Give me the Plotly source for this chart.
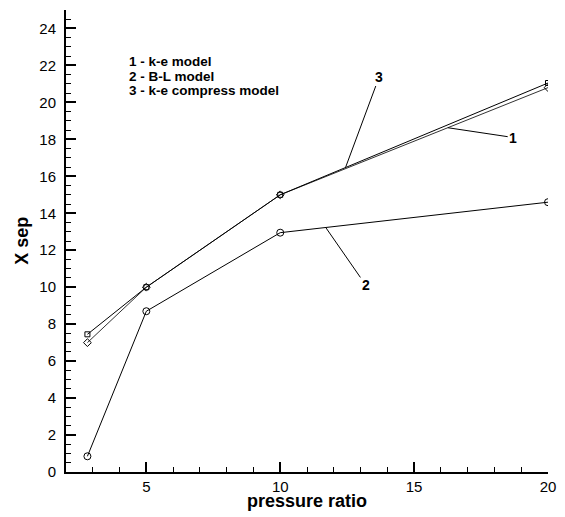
import plotly.graph_objects as go

# pressure ratio values
pressure_ratio = [2.8, 5, 10, 20]

# separation position for each model
x_sep_ke = [7.0, 10.0, 15.0, 20.8]
x_sep_bl = [0.85, 8.7, 12.95, 14.6]
x_sep_ke_compress = [7.45, 10.0, 15.0, 21.05]

legend_lines = ["1 - k-e model", "2 - B-L model", "3 - k-e compress model"]
legend_y = [22.2, 21.4, 20.65]

# curve labels: (text, label x, label y, point x, point y)
curve_labels = [
    ("1", 18.7, 18.1, 16.26, 18.63),
    ("2", 13.2, 10.1, 11.7, 13.23),
    ("3", 13.7, 21.4, 12.44, 16.48),
]

FONT = "Liberation Sans, Arial, sans-serif"

fig = go.Figure()

fig.add_trace(
    go.Scatter(
        x=pressure_ratio,
        y=x_sep_ke,
        mode="lines+markers",
        line=dict(color="#333333", width=1),
        marker=dict(symbol="diamond-open", size=6, color="#000000", line=dict(width=1)),
        showlegend=False,
    )
)
fig.add_trace(
    go.Scatter(
        x=pressure_ratio,
        y=x_sep_bl,
        mode="lines+markers",
        line=dict(color="#000000", width=1),
        marker=dict(symbol="circle-open", size=7, color="#000000", line=dict(width=1)),
        showlegend=False,
    )
)
fig.add_trace(
    go.Scatter(
        x=pressure_ratio,
        y=x_sep_ke_compress,
        mode="lines+markers",
        line=dict(color="#000000", width=1),
        marker=dict(symbol="square-open", size=5, color="#000000", line=dict(width=1)),
        showlegend=False,
    )
)

# legend text block, one line per annotation
for line, ly in zip(legend_lines, legend_y):
    fig.add_annotation(
        x=4.28,
        y=ly,
        xref="x",
        yref="y",
        text=line,
        showarrow=False,
        xanchor="left",
        yanchor="middle",
        font=dict(family=FONT, size=13.5, color="#000000", weight="bold"),
    )

# numbered leader labels
for text, lx, ly, px, py in curve_labels:
    fig.add_annotation(
        x=px,
        y=py,
        ax=lx,
        ay=ly,
        xref="x",
        yref="y",
        axref="x",
        ayref="y",
        text=text,
        showarrow=True,
        arrowhead=0,
        arrowwidth=1,
        arrowcolor="#000000",
        font=dict(family=FONT, size=14, color="#000000", weight="bold"),
    )

# axis titles
fig.add_annotation(
    x=0.5,
    y=-0.062,
    xref="paper",
    yref="paper",
    text="pressure ratio",
    showarrow=False,
    xanchor="center",
    yanchor="middle",
    font=dict(family=FONT, size=18, color="#000000", weight="bold"),
)
fig.add_annotation(
    x=-0.092,
    y=0.5,
    xref="paper",
    yref="paper",
    text="X sep",
    textangle=-90,
    showarrow=False,
    xanchor="center",
    yanchor="middle",
    font=dict(family=FONT, size=18, color="#000000", weight="bold"),
)

axis_style = dict(
    showgrid=False,
    zeroline=False,
    showline=True,
    linecolor="#000000",
    linewidth=2,
    ticks="inside",
    ticklen=10,
    tickwidth=2,
    tickcolor="#000000",
    tickfont=dict(family=FONT, size=15, color="#000000"),
)

fig.update_xaxes(
    range=[2, 20],
    tick0=0,
    dtick=5,
    minor=dict(dtick=1, ticks="inside", ticklen=5, tickwidth=1, tickcolor="#000000"),
    **axis_style,
)
fig.update_yaxes(
    range=[0, 25],
    tick0=0,
    dtick=2,
    ticklabelstandoff=5,
    minor=dict(dtick=0.5, ticks="inside", ticklen=5, tickwidth=1, tickcolor="#000000"),
    **axis_style,
)

fig.update_layout(
    width=565,
    height=517,
    margin=dict(l=66, r=9, t=10, b=45),
    plot_bgcolor="#ffffff",
    paper_bgcolor="#ffffff",
    font=dict(family=FONT, color="#000000"),
)

# drop the browser's default body margin so the figure sits at the page corner
fig.write_html(
    "out.html",
    config={"displayModeBar": False},
    post_script="document.body.style.margin = '0';",
)
